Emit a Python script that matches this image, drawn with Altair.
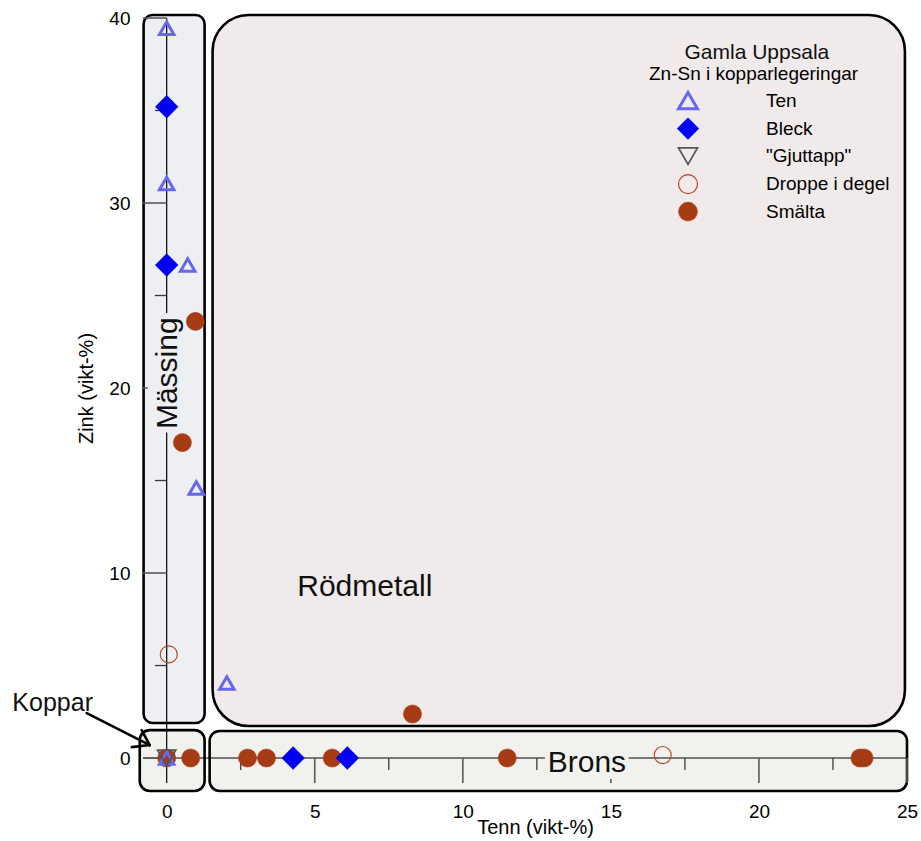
import altair as alt
import pandas as pd

FONT = "Liberation Sans"

# ---------------- data ----------------
types = ["Ten", "Bleck", '"Gjuttapp"', "Droppe i degel", "Smälta"]

ten_x = [0.0, 0.0, 0.71, 1.0, 2.03, 0.0]
ten_y = [39.45, 31.05, 26.65, 14.6, 4.05, 0.0]
bleck_x = [0.0, 0.0, 4.27, 6.1]
bleck_y = [35.2, 26.65, 0.0, 0.0]
gjut_x = [0.0]
gjut_y = [0.0]
droppe_x = [0.07, 16.75]
droppe_y = [5.6, 0.16]
smalta_x = [0.97, 0.53, 0.0, 0.81, 2.73, 3.37, 5.59, 8.3, 11.5, 23.41, 23.55]
smalta_y = [23.6, 17.05, 0.0, 0.0, 0.0, 0.0, 0.0, 2.38, 0.0, 0.0, 0.0]

# regions (data units)
region_names = ["Mässing", "Rödmetall", "Koppar", "Brons"]
region_x0 = [-0.78, 1.55, -0.91, 1.45]
region_x1 = [1.28, 24.93, 1.28, 25.0]
region_y0 = [1.89, 1.73, -1.78, -1.78]
region_y1 = [40.16, 40.16, 1.51, 1.46]

# region label positions
label_names = ["Rödmetall", "Brons", "Koppar"]
label_x = [6.69, 14.19, -3.85]
label_y = [9.24, -0.27, 2.97]
mass_x = [0.05]
mass_y = [20.8]

# label background patches (cover axis line behind text)
bg_names = ["Mässing", "Brons"]
bg_x0 = [-0.64, 12.77]
bg_x1 = [0.78, 15.6]
bg_y0 = [17.6, -1.14]
bg_y1 = [24.05, 1.08]

# arrow for Koppar (start -> tip, plus two barbs)
arrow_x0 = [-2.70, -0.845, -1.18]
arrow_y0 = [2.43, 1.51, 0.59]
arrow_x1 = [-0.574, -0.574, -0.574]
arrow_y1 = [0.70, 0.70, 0.70]

title_main = "Gamla Uppsala"
title_x = [19.93]
title_y = [38.1]

x_domain = [-0.8, 25]
y_domain = [-1.35, 40]
x_label_vals = [0, 5, 10, 15, 20, 25]
y_label_vals = [0, 10, 20, 30, 40]
x_major = [5, 10, 15, 20, 25]
x_minor = [2.5, 7.5, 12.5, 17.5, 22.5]
y_major = [0, 10, 20, 30, 40]
y_minor = [5, 15, 25, 35]

# ---------------- frames ----------------
rows = []
for t, xs_, ys_ in [("Smälta", smalta_x, smalta_y),
                    ("Droppe i degel", droppe_x, droppe_y),
                    ("Bleck", bleck_x, bleck_y),
                    ("Ten", ten_x, ten_y),
                    ('"Gjuttapp"', gjut_x, gjut_y)]:
    rows += [{"typ": t, "tenn": a, "zink": b} for a, b in zip(xs_, ys_)]
pts = pd.DataFrame(rows)

regions = pd.DataFrame({"name": region_names, "x0": region_x0, "x1": region_x1,
                        "y0": region_y0, "y1": region_y1})
labels = pd.DataFrame({"name": label_names, "x": label_x, "y": label_y})
mass = pd.DataFrame({"name": ["Mässing"], "x": mass_x, "y": mass_y})
bgs = pd.DataFrame({"name": bg_names, "x0": bg_x0, "x1": bg_x1, "y0": bg_y0, "y1": bg_y1})
arrow = pd.DataFrame({"x0": arrow_x0, "y0": arrow_y0, "x1": arrow_x1, "y1": arrow_y1})
gtitle = pd.DataFrame({"t": [title_main], "x": title_x, "y": title_y})

axis_lines = pd.DataFrame({"x0": [0, x_domain[0]], "x1": [0, x_domain[1]],
                           "y0": [y_domain[0], 0], "y1": [y_domain[1], 0]})
ticks_major = pd.DataFrame(
    [{"x0": v, "x1": v, "y0": 0, "y1": y_domain[0]} for v in x_major] +
    [{"x0": x_domain[0], "x1": 0, "y0": v, "y1": v} for v in y_major])
ticks_minor = pd.DataFrame(
    [{"x0": v, "x1": v, "y0": 0, "y1": -0.65} for v in x_minor] +
    [{"x0": -0.4, "x1": 0, "y0": v, "y1": v} for v in y_minor])

# ---------------- scales / axes ----------------
xs = alt.Scale(domain=x_domain, nice=False, zero=False)
ys = alt.Scale(domain=y_domain, nice=False, zero=False)

xaxis = alt.Axis(title="Tenn (vikt-%)", values=x_label_vals, domain=False, ticks=False,
                 grid=False, labelFontSize=19, labelFont=FONT, labelColor="black",
                 labelPadding=19, labelFlush=False, labelOverlap=False,
                 titleFontSize=20, titleFont=FONT, titleFontWeight="normal",
                 titleColor="black", titleX=392, titleY=50, titleAlign="center",
                 titleBaseline="alphabetic")
yaxis = alt.Axis(title="Zink (vikt-%)", values=y_label_vals, domain=False, ticks=False,
                 grid=False, labelFontSize=19, labelFont=FONT, labelColor="black",
                 labelPadding=13, labelOverlap=False,
                 titleFontSize=20, titleFont=FONT, titleFontWeight="normal",
                 titleColor="black", titleX=-57, titleY=370, titleAngle=270,
                 titleAlign="center", titleBaseline="middle")


def X(f):
    return alt.X(f, type="quantitative", scale=xs, axis=xaxis)


def Y(f):
    return alt.Y(f, type="quantitative", scale=ys, axis=yaxis)


def box(name, fill, radius):
    return alt.Chart(regions).transform_filter(alt.datum.name == name).mark_rect(
        fill=fill, stroke="black", strokeWidth=2.6, cornerRadius=radius
    ).encode(x=X("x0"), x2="x1", y=Y("y0"), y2="y1")


box_m = box("Mässing", "#eeeff2", 9)
box_r = box("Rödmetall", "#f0eaea", 36)
box_k = box("Koppar", "#f1f1ee", 10)
box_b = box("Brons", "#f1f1ee", 10)

ax_lines = alt.Chart(axis_lines).mark_rule(color="black", strokeWidth=1.2).encode(
    x=X("x0"), x2="x1", y=Y("y0"), y2="y1")
tk_major = alt.Chart(ticks_major).mark_rule(color="#5a5a5a", strokeWidth=1.6).encode(
    x=X("x0"), x2="x1", y=Y("y0"), y2="y1")
tk_minor = alt.Chart(ticks_minor).mark_rule(color="#3a3a3a", strokeWidth=1.3).encode(
    x=X("x0"), x2="x1", y=Y("y0"), y2="y1")

bg_m = alt.Chart(bgs).transform_filter(alt.datum.name == "Mässing").mark_rect(
    fill="#eeeff2").encode(x=X("x0"), x2="x1", y=Y("y0"), y2="y1")
bg_b = alt.Chart(bgs).transform_filter(alt.datum.name == "Brons").mark_rect(
    fill="#f1f1ee").encode(x=X("x0"), x2="x1", y=Y("y0"), y2="y1")

region_text = alt.Chart(labels).transform_filter(alt.datum.name != "Koppar").mark_text(
    font=FONT, fontSize=30, color="#111111", align="center", baseline="middle"
).encode(x=X("x"), y=Y("y"), text="name:N")
koppar_text = alt.Chart(labels).transform_filter(alt.datum.name == "Koppar").mark_text(
    font=FONT, fontSize=25, color="#111111", align="center", baseline="middle"
).encode(x=X("x"), y=Y("y"), text="name:N")
mass_text = alt.Chart(mass).mark_text(
    font=FONT, fontSize=30, color="#111111", align="center", baseline="middle", angle=270
).encode(x=X("x"), y=Y("y"), text="name:N")

arrow_rules = alt.Chart(arrow).mark_rule(color="black", strokeWidth=2.6, strokeCap="round").encode(
    x=X("x0"), x2="x1", y=Y("y0"), y2="y1")

gtitle_text = alt.Chart(gtitle).mark_text(
    font=FONT, fontSize=21, color="#111111", align="center", baseline="middle"
).encode(x=X("x"), y=Y("y"), text="t:N")

leg = alt.Legend(title="Zn-Sn i kopparlegeringar", orient="none", legendX=506, legendY=46.6,
                 titleFontSize=19, titleFont=FONT, titleFontWeight="normal", titleColor="black",
                 titleLimit=500, labelLimit=400, symbolSize=360, gridAlign="all",
                 labelFontSize=19, labelFont=FONT, labelColor="black", titlePadding=6,
                 rowPadding=-2, symbolOffset=28, labelOffset=67, padding=0)

shapes = ["triangle-up", "diamond", "triangle-down", "circle", "circle"]
fills = ["transparent", "#0000f0", "transparent", "transparent", "#a63b14"]
strokes = ["#6767ee", "#0000f0", "#555555", "#b3411a", "#a63b14"]
swidths = [3.0, 0.5, 1.8, 2.0, 0.5]
# marker size per type (draw order: filled circles first)
draw_order = ["Smälta", "Droppe i degel", "Bleck", "Ten", '"Gjuttapp"']
draw_sizes = [330, 290, 400, 210, 330]


def point_layer(typ, size):
    return alt.Chart(pts).transform_filter(alt.datum.typ == typ).mark_point(
        opacity=1, size=size
    ).encode(
        x=X("tenn"), y=Y("zink"),
        shape=alt.Shape("typ:N", scale=alt.Scale(domain=types, range=shapes), legend=leg),
        fill=alt.Fill("typ:N", scale=alt.Scale(domain=types, range=fills), legend=leg),
        stroke=alt.Stroke("typ:N", scale=alt.Scale(domain=types, range=strokes), legend=leg),
        strokeWidth=alt.StrokeWidth("typ:N", scale=alt.Scale(domain=types, range=swidths), legend=leg),
    )


point_layers = [point_layer(t, s) for t, s in zip(draw_order, draw_sizes)]

chart = alt.layer(
    box_m, box_r, box_k, box_b, ax_lines, tk_major, tk_minor, bg_m, bg_b,
    region_text, koppar_text, mass_text, arrow_rules, gtitle_text, *point_layers
).properties(
    width=764, height=765,
    padding={"left": 143, "top": 18, "right": 14, "bottom": 58},
    autosize=alt.AutoSizeParams(type="none"),
    background="white",
).configure_view(strokeWidth=0)

chart.save("out.html", embed_options={"renderer": "svg", "actions": False})
